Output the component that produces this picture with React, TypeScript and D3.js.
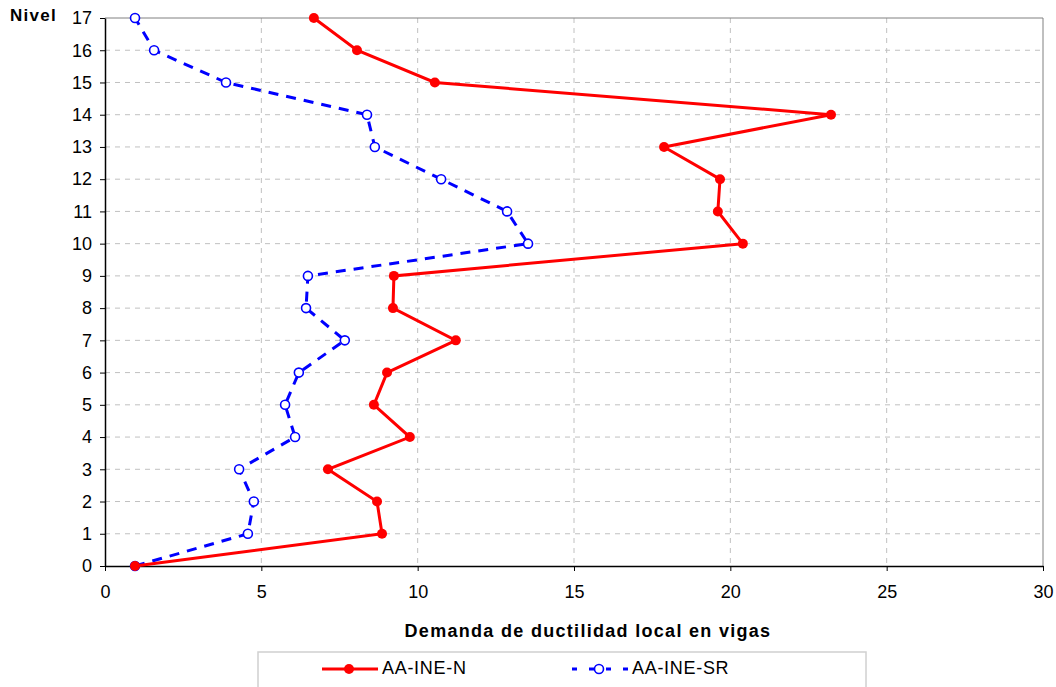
import React, { useEffect, useRef } from "react";
import * as d3 from "d3";

const levels = [0, 1, 2, 3, 4, 5, 6, 7, 8, 9, 10, 11, 12, 13, 14, 15, 16, 17];
const seriesN = [0.96, 8.86, 8.7, 7.13, 9.75, 8.6, 9.02, 11.22, 9.21, 9.24, 20.4, 19.6, 19.67, 17.88, 23.22, 10.55, 8.06, 6.68];
const seriesSR = [0.96, 4.57, 4.76, 4.29, 6.08, 5.76, 6.2, 7.67, 6.43, 6.49, 13.53, 12.86, 10.75, 8.63, 8.38, 3.87, 1.57, 0.96];
const xTicks = [0, 5, 10, 15, 20, 25, 30];
const yTicks = levels;
const labelN = "AA-INE-N";
const labelSR = "AA-INE-SR";
const xTitle = "Demanda de ductilidad local en vigas";
const yTitle = "Nivel";

export default function App() {
  const ref = useRef<SVGSVGElement>(null);
  useEffect(() => {
    const svg = d3.select(ref.current);
    svg.selectAll("*").remove();
    const left = 105, right = 1043, top = 18, bottom = 566;
    const x = d3.scaleLinear().domain([0, 30]).range([left, right]);
    const y = d3.scaleLinear().domain([0, 17]).range([bottom, top]);
    const font = "'Liberation Sans', Arial, sans-serif";

    const g = svg.append("g");
    // grid
    g.selectAll(".hg").data(yTicks.filter((d) => d > 0 && d < 17)).enter().append("line")
      .attr("x1", left).attr("x2", right).attr("y1", (d) => y(d)).attr("y2", (d) => y(d))
      .attr("stroke", "#c0c0c0").attr("stroke-dasharray", "5,5").attr("stroke-width", 1);
    g.selectAll(".vg").data(xTicks.filter((d) => d > 0 && d < 30)).enter().append("line")
      .attr("y1", top).attr("y2", bottom).attr("x1", (d) => x(d)).attr("x2", (d) => x(d))
      .attr("stroke", "#c0c0c0").attr("stroke-dasharray", "5,5").attr("stroke-width", 1);
    // frame
    g.append("line").attr("x1", left).attr("x2", right).attr("y1", top).attr("y2", top).attr("stroke", "#808080");
    g.append("line").attr("x1", right).attr("x2", right).attr("y1", top).attr("y2", bottom).attr("stroke", "#808080");

    // axes
    const xAxis = g.append("g").attr("transform", `translate(0,${bottom})`)
      .call(d3.axisBottom(x).tickValues(xTicks).tickSize(5).tickPadding(14).tickSizeOuter(0));
    const yAxis = g.append("g").attr("transform", `translate(${left},0)`)
      .call(d3.axisLeft(y).tickValues(yTicks).tickSize(5).tickPadding(8).tickSizeOuter(0));
    [xAxis, yAxis].forEach((a) => {
      a.attr("font-size", 18).attr("font-family", font);
      a.selectAll("text").attr("font-family", font).attr("font-size", 18).attr("fill", "#000");
      a.selectAll("line").attr("stroke", "#000");
      a.select(".domain").attr("stroke", "#000").attr("stroke-width", 1.5);
    });

    const line = d3.line<number>().x((d) => x(d)).y((_, i) => y(levels[i]));

    // SR series (blue, dashed)
    g.append("path").attr("d", line(seriesSR)).attr("fill", "none").attr("stroke", "#0000ff")
      .attr("stroke-width", 3).attr("stroke-dasharray", "10,8");
    g.selectAll(".msr").data(seriesSR).enter().append("circle")
      .attr("cx", (d) => x(d)).attr("cy", (_, i) => y(levels[i])).attr("r", 4.5)
      .attr("fill", "#fff").attr("stroke", "#0000ff").attr("stroke-width", 1.6);

    // N series (red)
    g.append("path").attr("d", line(seriesN)).attr("fill", "none").attr("stroke", "#ff0000")
      .attr("stroke-width", 3);
    g.selectAll(".mn").data(seriesN).enter().append("circle")
      .attr("cx", (d) => x(d)).attr("cy", (_, i) => y(levels[i])).attr("r", 5)
      .attr("fill", "#ff0000");

    // titles
    g.append("text").attr("x", 588).attr("y", 637).attr("text-anchor", "middle")
      .attr("font-family", font).attr("font-weight", "bold").attr("font-size", 18)
      .attr("letter-spacing", 1.3).text(xTitle);
    g.append("text").attr("x", 10).attr("y", 21)
      .attr("font-family", font).attr("font-weight", "bold").attr("font-size", 17)
      .attr("letter-spacing", 1.3).text(yTitle);

    // legend
    const lg = g.append("g");
    lg.append("rect").attr("x", 258).attr("y", 652).attr("width", 608).attr("height", 50)
      .attr("fill", "#fff").attr("stroke", "#d0d0d0").attr("stroke-width", 1.5);
    const ly = 669;
    lg.append("line").attr("x1", 322).attr("x2", 378).attr("y1", ly).attr("y2", ly)
      .attr("stroke", "#ff0000").attr("stroke-width", 3);
    lg.append("circle").attr("cx", 349).attr("cy", ly).attr("r", 5).attr("fill", "#ff0000");
    lg.append("text").attr("x", 382).attr("y", 674).attr("font-family", font).attr("font-size", 18)
      .attr("letter-spacing", 0.7).text(labelN);
    lg.append("line").attr("x1", 572).attr("x2", 630).attr("y1", ly).attr("y2", ly)
      .attr("stroke", "#0000ff").attr("stroke-width", 3).attr("stroke-dasharray", "5,12");
    lg.append("circle").attr("cx", 599).attr("cy", ly).attr("r", 4.5)
      .attr("fill", "#fff").attr("stroke", "#0000ff").attr("stroke-width", 1.6);
    lg.append("text").attr("x", 632).attr("y", 674).attr("font-family", font).attr("font-size", 18)
      .attr("letter-spacing", 0.7).text(labelSR);
  }, []);
  return (
    <svg ref={ref} width={1056} height={687}
      style={{ position: "absolute", left: 0, top: 0, background: "#fff" }} />
  );
}
